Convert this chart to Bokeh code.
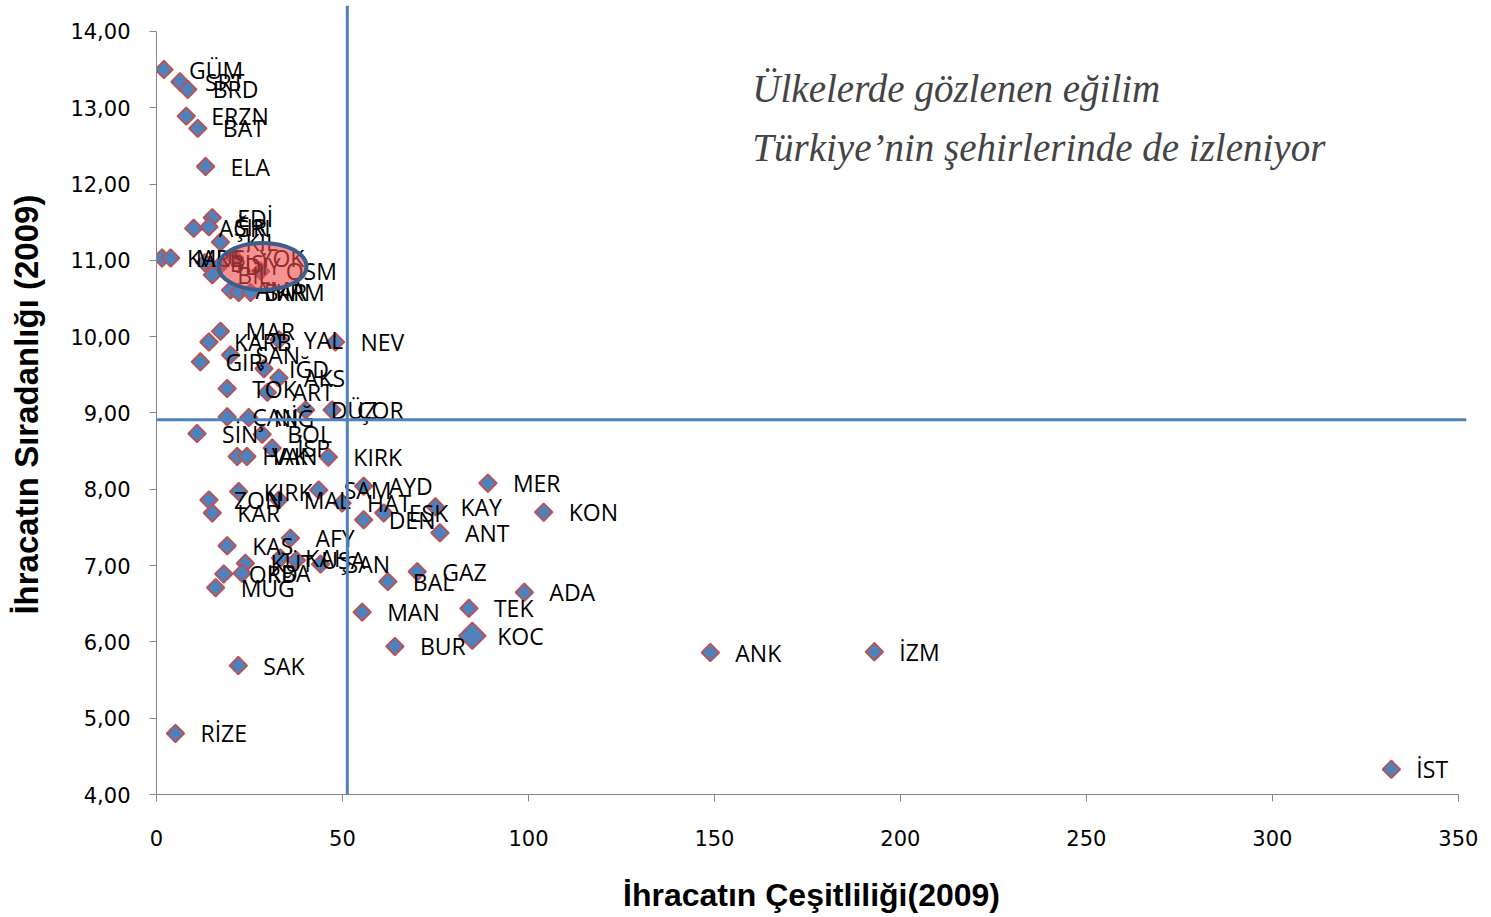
from bokeh.plotting import figure
from bokeh.models import Span, FixedTicker, CustomJSTickFormatter, ColumnDataSource, Range1d, Label
from bokeh.core.properties import value
from bokeh.embed import file_html
from bokeh.resources import INLINE
import math

# ---- data ----
cities = ["GÜM", "SRT", "BRD", "ERZN", "BAT", "ELA", "EDİ", "AĞRI", "ŞIR", "KİL",
          "KARS", "MUŞ", "BİS", "DİY", "YOK", "BİL", "OSM", "AMA", "BAR", "KRM",
          "MAR", "KARB", "YAL", "NEV", "GİR", "ŞAN", "IĞD", "AKS", "TOK", "ART",
          "ÇAN", "NİĞ", "DÜZ", "ÇOR", "SİN", "BOL", "İSP", "HAK", "VAN", "KIRK",
          "KIRK", "ZON", "KAR", "MAL", "SAM", "AYD", "HAT", "DEN", "ESK", "KAY",
          "ANT", "MER", "KON", "KAS", "AFY", "KÜT", "ORD", "KBA", "KAH", "UŞA",
          "SAN", "MUĞ", "GAZ", "BAL", "ADA", "TEK", "MAN", "KOC", "BUR", "SAK",
          "RİZE", "ANK", "İZM", "İST"]
diversity = [2.0, 6.3, 8.4, 8.0, 11.1, 13.2, 15.0, 10.0, 14.1, 17.2,
             1.5, 3.8, 13.0, 17.0, 21.0, 15.0, 28.0, 19.9, 22.1, 25.3,
             17.2, 14.1, 32.9, 48.1, 11.8, 19.9, 28.9, 32.9, 19.0, 29.8,
             19.0, 24.8, 40.1, 47.2, 10.9, 28.4, 31.1, 21.7, 24.3, 46.2,
             22.1, 14.1, 15.0, 32.9, 43.6, 55.7, 49.9, 55.7, 61.1, 75.0,
             76.2, 89.1, 104.1, 19.0, 36.0, 23.9, 18.1, 23.0, 33.3, 37.6,
             44.1, 15.9, 70.1, 62.2, 98.9, 84.0, 55.3, 84.9, 64.1, 22.0,
             5.1, 148.9, 193.0, 332.0]
ordinariness = [13.50, 13.34, 13.24, 12.89, 12.73, 12.23, 11.56, 11.42, 11.44, 11.24,
                11.03, 11.03, 10.97, 10.93, 11.03, 10.81, 10.86, 10.61, 10.58, 10.58,
                10.07, 9.93, 9.96, 9.93, 9.67, 9.76, 9.58, 9.46, 9.32, 9.27,
                8.95, 8.94, 9.04, 9.04, 8.73, 8.72, 8.54, 8.43, 8.43, 8.42,
                7.97, 7.86, 7.69, 7.86, 7.99, 8.04, 7.82, 7.60, 7.69, 7.77,
                7.43, 8.08, 7.70, 7.26, 7.36, 7.03, 6.89, 6.90, 7.10, 7.07,
                7.02, 6.71, 6.92, 6.79, 6.65, 6.44, 6.39, 6.08, 5.94, 5.69,
                4.80, 5.86, 5.87, 4.33]
large_marks = ["KOC"]
mean_diversity = 51.3
mean_ordinariness = 8.91
x_ticks = [0, 50, 100, 150, 200, 250, 300, 350]
y_ticks = [4, 5, 6, 7, 8, 9, 10, 11, 12, 13, 14]
title_lines = ["Ülkelerde gözlenen eğilim", "Türkiye’nin şehirlerinde de izleniyor"]
x_title = "İhracatın Çeşitliliği(2009)"
y_title = "İhracatın  Sıradanlığı (2009)"

small = [i for i, c in enumerate(cities) if c not in large_marks]
big = [i for i, c in enumerate(cities) if c in large_marks]
src_small = ColumnDataSource(dict(x=[diversity[i] for i in small], y=[ordinariness[i] for i in small]))
src_big = ColumnDataSource(dict(x=[diversity[i] for i in big], y=[ordinariness[i] for i in big]))
src_lab = ColumnDataSource(dict(x=diversity, y=ordinariness, t=cities))

p = figure(width=1480, height=915, output_backend="svg", toolbar_location=None,
           x_range=Range1d(0, 352.2), y_range=Range1d(4, 14.34),
           min_border_left=156, min_border_right=14, min_border_top=5, min_border_bottom=100)
p.grid.visible = False
p.outline_line_color = None
p.background_fill_color = "white"

p.add_layout(Span(location=mean_diversity, dimension="height", line_color="#4f81bd", line_width=3))
p.add_layout(Span(location=mean_ordinariness, dimension="width", line_color="#4f81bd", line_width=3))

p.scatter("x", "y", source=src_small, marker="square", angle=math.pi / 4, size=12.5,
          fill_color="#4f81bd", line_color="#c0504d", line_width=1.8)
p.scatter("x", "y", source=src_big, marker="square", angle=math.pi / 4, size=19,
          fill_color="#4f81bd", line_color="#c0504d", line_width=1.8)

p.text("x", "y", text="t", source=src_lab, x_offset=25, text_baseline="middle", text_align="left",
       text_font=value("Open Sans"), text_font_size="23px", text_color="black")

p.ellipse(x=[28.5], y=[10.92], width=88, height=47, width_units="screen", height_units="screen",
          fill_color="#f04a4a", fill_alpha=0.6, line_color="#3b5e8c", line_width=4)

p.add_layout(Label(x=160.2, y=13.25, text=title_lines[0], text_font="Liberation Serif",
                   text_font_style="italic", text_font_size="39px", text_baseline="middle"))
p.add_layout(Label(x=160.2, y=12.48, text=title_lines[1], text_font="Liberation Serif",
                   text_font_style="italic", text_font_size="39px", text_baseline="middle"))

for ax in (p.xaxis[0], p.yaxis[0]):
    ax.axis_line_color = "#868686"
    ax.major_tick_line_color = "#868686"
    ax.major_tick_out = 7
    ax.major_tick_in = 0
    ax.minor_tick_line_color = None
    ax.major_label_text_font = "DejaVu Sans"
    ax.major_label_text_font_size = "21px"
    ax.major_label_text_color = "black"
    ax.axis_label_text_font = "Liberation Sans"
    ax.axis_label_text_font_style = "bold"
    ax.axis_label_text_color = "black"

p.xaxis.axis_label_text_font_size = "32px"
p.yaxis.axis_label_text_font_size = "33px"
p.xaxis.ticker = FixedTicker(ticks=x_ticks)
p.yaxis.ticker = FixedTicker(ticks=y_ticks)
p.xaxis.bounds = (0, 350)
p.yaxis.bounds = (4, 14)
p.yaxis.formatter = CustomJSTickFormatter(code="return tick.toFixed(2).replace('.', ',');")
p.xaxis.axis_label = x_title
p.yaxis.axis_label = y_title
p.xaxis.major_label_standoff = 28
p.yaxis.major_label_standoff = 19
p.xaxis.axis_label_standoff = 28
p.yaxis.axis_label_standoff = 22

open("out.html", "w").write(file_html(p, INLINE))
